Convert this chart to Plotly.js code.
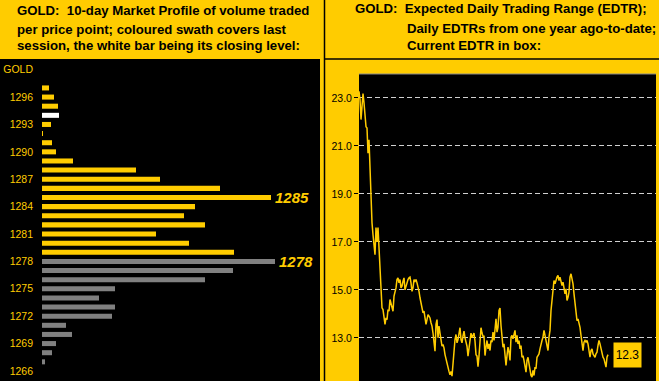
<!DOCTYPE html>
<html><head><meta charset="utf-8">
<script src="https://cdn.plot.ly/plotly-3.0.1.min.js"></script>
<style>html,body{margin:0;padding:0;background:#FFCC00;}#chart{width:659px;height:381px;}</style>
</head><body><div id="chart"></div>
<script>
// ---- Market profile data ----
const priceLevels = [1267,1268,1269,1270,1271,1272,1273,1274,1275,1276,1277,1278,1279,1280,1281,1282,1283,1284,1285,1286,1287,1288,1289,1290,1291,1292,1293,1294,1295,1296,1297];
const volumes     = [3,10,14,30,24,70,73,57,73,163,191,233,192,147,114,163,142,153,229,178,118,94,31,14,10,1,9,17,16,12,7];
const sessionLow = 1279;
const sessionClose = 1294;
const profileTicks = [1266,1269,1272,1275,1278,1281,1284,1287,1290,1293,1296,1299];
const profileTickText = ['1266','1269','1272','1275','1278','1281','1284','1287','1290','1293','1296','GOLD'];
const peakLabels = [1285, 1278];

// ---- EDTR data (one year of daily values) ----
const edtr = [23.28,22.93,22.1,22.65,23.18,22.8,22.2,21.8,21.75,20.7,21.26,20.1,
18.63,17.8,17.3,16.8,16.47,17.6,17.0,17.6,
16.68,16.06,15.15,14.25,14.18,13.83,13.56,13.83,13.76,14.18,14.11,14.6,14.4,14.3,14.11,14.74,14.87,15.08,15.43,15.5,15.29,15.43,15.08,15.15,15.36,15.5,15.0,15.15,15.36,15.43,15.5,15.53,15.29,14.94,15.08,15.43,15.36,15.43,15.29,15.15,14.94,14.67,14.39,14.18,14.04,14.11,13.9,13.56,13.76,13.97,13.9,13.83,13.63,13.49,13.2,12.79,12.44,13.56,13.76,13.0,13.49,13.2,12.79,12.65,12.72,12.58,12.3,12.1,12.03,11.8,11.6,11.46,11.6,11.4,12.03,12.24,12.93,13.14,12.79,12.93,13.2,13.42,12.93,12.79,13.07,13.28,13.0,12.79,12.65,12.24,12.58,13.07,13.2,13.0,13.07,13.2,12.86,12.3,12.24,11.8,12.24,13.07,13.42,13.2,13.07,13.07,
12.26,12.61,12.89,12.54,12.75,12.47,12.89,12.82,13.24,12.89,13.44,13.79,13.24,13.44,14.14,14.24,13.51,13.03,12.61,12.75,12.4,11.85,12.26,12.61,12.4,12.06,13.03,13.1,12.96,13.24,13.31,12.82,13.1,12.75,12.89,12.54,12.68,12.19,12.26,12.06,11.78,11.57,12.06,12.19,11.92,11.64,11.43,11.36,11.64,11.43,11.78,11.71,12.19,12.26,12.33,12.54,12.82,12.89,13.03,13.31,13.1,12.82,12.68,12.47,13.03,13.31,
14.14,14.56,14.9,15.39,15.25,15.46,15.53,15.6,15.39,15.53,15.25,15.18,15.32,15.04,14.83,15.04,14.56,14.69,14.9,15.53,15.67,15.46,15.25,14.83,14.49,14.14,13.72,13.79,13.65,13.44,13.1,12.61,12.47,12.82,12.89,12.82,12.89,12.75,12.54,12.19,12.47,12.54,12.33,12.26,12.19,12.33,12.4,12.68,12.89,12.75,12.54,12.47,12.19,12.12,11.99,11.78,12.19,12.3];
const edtrTicks = [13,15,17,19,21,23];
const currentEdtr = 12.3;

// ---- styling ----
const GOLD = '#FFCC00';
const FONT = 'Liberation Sans, Arial, sans-serif';
const W = 659, H = 381;
const px = v => v / W, py = v => 1 - v / H;

const barColors = priceLevels.map(p => p === sessionClose ? '#FFFFFF' : (p >= sessionLow ? GOLD : '#808080'));
const days = edtr.map((_, i) => i);

const traces = [
  {type:'bar', orientation:'h', x: volumes, y: priceLevels, width: 0.55,
   marker:{color: barColors, line:{width:0}}, xaxis:'x', yaxis:'y', hoverinfo:'skip'},
  {type:'scatter', mode:'lines', x: days, y: edtr, line:{color: GOLD, width: 1.5},
   xaxis:'x2', yaxis:'y2', hoverinfo:'skip'}
];

const titleFont = {family: FONT, size: 13.2, color: '#000'};
function tl(text, x, y) {
  return {text: '<b>' + text + '</b>', xref:'paper', yref:'paper', x: px(x), y: py(y),
          xanchor:'left', yanchor:'middle', showarrow:false, font: titleFont};
}

const annotations = [
  tl('GOLD:  10-day Market Profile of volume traded', 15, 11),
  tl('per price point; coloured swath covers last', 15, 29),
  tl('session, the white bar being its closing level:', 15, 46),
  tl('GOLD:  Expected Daily Trading Range (EDTR);', 353, 9),
  tl('Daily EDTRs from one year ago-to-date;', 405, 28.5),
  tl('Current EDTR in box:', 405, 46)
];
peakLabels.forEach(p => {
  const i = priceLevels.indexOf(p);
  annotations.push({text:'<b><i>' + p + '</i></b>', x: volumes[i], y: p, xref:'x', yref:'y',
    xanchor:'left', yanchor:'middle', xshift: 2, showarrow:false,
    font:{family: FONT, size: 15, color: GOLD}});
});
annotations.push({text: currentEdtr.toFixed(1), x: edtr.length - 1, y: currentEdtr, xref:'x2', yref:'y2',
  xanchor:'center', yanchor:'middle', xshift: 19, showarrow:false, bgcolor: GOLD,
  width: 25, height: 22, font:{family: FONT, size: 12, color:'#000'}});

const layout = {
  width: W, height: H, margin:{l:0,r:0,t:0,b:0},
  paper_bgcolor: GOLD, plot_bgcolor: '#000000', showlegend:false,
  xaxis:{domain:[px(42), px(320)], range:[0, 278], visible:false, fixedrange:true},
  yaxis:{domain:[0, 1 - 59/H], range:[1264.9, 1300.17], tickvals: profileTicks, ticktext: profileTickText,
    tickfont:{family: FONT, size: 10.5, color: GOLD}, showgrid:false, zeroline:false, ticks:'',
    ticklabelstandoff: 8, showline:false},
  xaxis2:{domain:[px(359), px(656)], range:[0, 297], visible:false, anchor:'y2'},
  yaxis2:{domain:[0, 1 - 74/H], range:[11.2, 24.0], anchor:'x2', tickvals: edtrTicks, tickformat:'.1f',
    tickfont:{family: FONT, size: 10.5, color:'#000'}, ticks:'outside', ticklen:4, tickcolor:'#000',
    showgrid:true, gridcolor:'#D0D0D0', griddash:'5px,3px', gridwidth:1, zeroline:false, showline:false},
  shapes:[
    {type:'rect', xref:'paper', yref:'paper', x0:0, x1:px(320), y0:0, y1:py(59), fillcolor:'#000', line:{width:0}, layer:'below'},
    {type:'line', xref:'paper', yref:'paper', x0:px(324.5), x1:px(324.5), y0:0, y1:1, line:{color:'#000', width:1.5}},
    {type:'line', xref:'paper', yref:'paper', x0:px(324.5), x1:1, y0:py(59), y1:py(59), line:{color:'#000', width:1.5}},
    {type:'line', xref:'paper', yref:'paper', x0:px(359), x1:px(656), y0:py(74), y1:py(74), line:{color:'#888', width:1}}
  ],
  annotations: annotations
};

Plotly.newPlot('chart', traces, layout, {staticPlot:true, displayModeBar:false});
</script></body></html>
